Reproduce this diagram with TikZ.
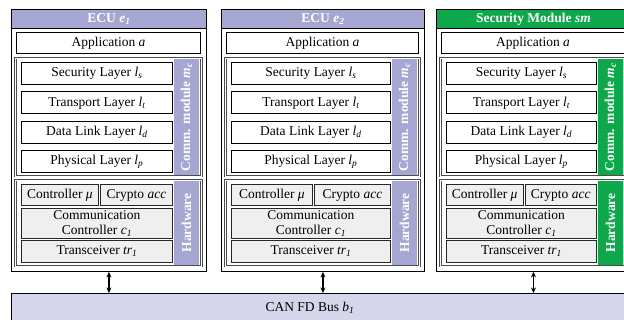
\documentclass[tikz,border=0pt]{standalone}
\usepackage{fontspec}
\setmainfont{Liberation Serif}
\usetikzlibrary{arrows.meta}
\definecolor{lav}{RGB}{166,166,210}
\definecolor{buscol}{RGB}{213,213,235}
\definecolor{smgreen}{RGB}{12,168,74}
\definecolor{hwgray}{RGB}{239,239,239}
\newcommand\isub[1]{\textsubscript{\textit{#1}}}
\tikzset{
  lbl/.style={font=\fontsize{13.5}{14.5}\selectfont},
  box/.style={draw=black, line width=0.9pt, inner sep=0pt, anchor=north west, lbl, align=center},
  layerbox/.style={box, fill=white},
  hwbox/.style={box, fill=hwgray, draw=black!85},
  frame/.style={draw=black!70, double=white, double distance=1.2pt, line width=0.6pt, inner sep=0pt, anchor=north west},
  outerbox/.style={draw=black, line width=0.9pt, fill=white, inner sep=0pt, anchor=north west},
  titlebar/.style={draw=black, line width=0.9pt, inner sep=0pt, anchor=north west, text=white, font=\bfseries\fontsize{13.5}{14.5}\selectfont},
  sidebar/.style={inner sep=0pt, rotate=90, text=white, font=\bfseries\fontsize{13.5}{14.5}\selectfont},
  busarrow/.style={{Stealth[length=5.5pt,width=5pt]}-{Stealth[length=5.5pt,width=5pt]}, line width=1.1pt},
}
% #1 name, #2 left, #3 width, #4 title, #5 colour
\newcommand\ecublock[5]{%
  \node[outerbox, minimum width=#3pt, minimum height=262pt] (#1) at (#2,9) {};
  \node[titlebar, fill=#5, minimum width=#3pt, minimum height=19pt] (#1-title) at (#2,9) {#4};
  \node[layerbox, minimum width=#3pt-11pt, minimum height=21pt] (#1-app) at (#2+5,32) {Application \textit{a}};
  \node[frame, minimum width=#3pt-9pt, minimum height=118pt] (#1-comm) at (#2+4,58) {};
  \node[sidebar, fill=#5, minimum width=116pt, minimum height=25pt] (#1-cside) at (#2+#3-19.5,117) {Comm. module \textit{m}\isub{c}};
  \node[layerbox, minimum width=#3pt-44pt, minimum height=22pt] (#1-sec) at (#2+10,62) {Security Layer \textit{l}\isub{s}};
  \node[layerbox, minimum width=#3pt-44pt, minimum height=22pt] (#1-tra) at (#2+10,91.5) {Transport Layer \textit{l}\isub{t}};
  \node[layerbox, minimum width=#3pt-44pt, minimum height=22pt] (#1-dl) at (#2+10,121) {Data Link Layer \textit{l}\isub{d}};
  \node[layerbox, minimum width=#3pt-44pt, minimum height=22pt] (#1-phy) at (#2+10,150.5) {Physical Layer \textit{l}\isub{p}};
  \node[frame, minimum width=#3pt-9pt, minimum height=86pt] (#1-hw) at (#2+4,180) {};
  \node[sidebar, fill=#5, minimum width=84pt, minimum height=25pt] (#1-hside) at (#2+#3-19.5,223) {Hardware};
  \node[hwbox, minimum width=#3pt/2-20.5pt, minimum height=21.5pt] (#1-ctl) at (#2+10,184) {Controller \textit{μ}};
  \node[hwbox, minimum width=#3pt/2-25.5pt, minimum height=21.5pt] (#1-cry) at (#2+#3/2-8.5,184) {Crypto \textit{acc}};
  \node[hwbox, minimum width=#3pt-44pt, minimum height=30pt] (#1-cc) at (#2+10,208) {Communication\\Controller \textit{c}\isub{1}};
  \node[hwbox, minimum width=#3pt-44pt, minimum height=22pt] (#1-trx) at (#2+10,240) {Transceiver \textit{tr}\isub{1}};
}
\begin{document}
\begin{tikzpicture}[x=1pt, y=-1pt]
  \useasboundingbox (0,0) rectangle (624,320);
  \clip (0,0) rectangle (624,320);
  \ecublock{e1}{11}{195}{ECU \textit{e}\isub{1}}{lav}
  \ecublock{e2}{221}{203}{ECU \textit{e}\isub{2}}{lav}
  \ecublock{sm}{436}{194}{Security Module \textit{sm}}{smgreen}
  \node[draw=black, line width=0.9pt, fill=buscol, inner sep=0pt, anchor=north west, minimum width=640pt, minimum height=40pt] (bus) at (11,293) {};
  \node[lbl, inner sep=0pt] (buslabel) at (310,308) {CAN FD Bus \textit{b}\isub{1}};
  \draw[busarrow] (e1.south) -- (bus.north -| e1.south);
  \draw[busarrow] (e2.south) -- (bus.north -| e2.south);
  \draw[busarrow] (sm.south) -- (bus.north -| sm.south);
\end{tikzpicture}
\end{document}
